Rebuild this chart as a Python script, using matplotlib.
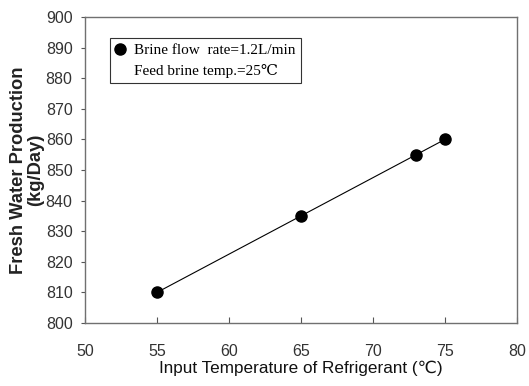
import matplotlib.pyplot as plt
from matplotlib.lines import Line2D

# data
temp = [55, 65, 73, 75]
water = [810, 835, 855, 860]
xticks = [50, 55, 60, 65, 70, 75, 80]
yticks = [800, 810, 820, 830, 840, 850, 860, 870, 880, 890, 900]
legend_labels = ["Brine flow  rate=1.2L/min", "Feed brine temp.=25\u2103"]

fig = plt.figure(figsize=(5.29, 3.86), dpi=100)
ax = fig.add_axes([0.1607, 0.1632, 0.8166, 0.7928])

ax.plot(temp, water, color="black", lw=0.8, marker="o", ms=8,
        markerfacecolor="black", markeredgecolor="black")

ax.set_xlim(50, 80)
ax.set_ylim(800, 900)
ax.set_xticks(xticks)
ax.set_yticks(yticks)

for s in ax.spines.values():
    s.set_color("#707070")
    s.set_linewidth(1.0)

ax.tick_params(axis="x", direction="in", length=4, color="#555555", pad=15,
               labelsize=11.5, labelcolor="#333333")
ax.tick_params(axis="y", direction="out", length=3, color="#555555", pad=6,
               labelsize=11.5, labelcolor="#333333")
for lab in ax.get_xticklabels() + ax.get_yticklabels():
    lab.set_family("Liberation Sans")

ax.set_xlabel("Input Temperature of Refrigerant (\u2103)", fontsize=12.3,
              family=["Liberation Sans", "DejaVu Sans"], labelpad=1, color="#111111")
ax.set_ylabel("Fresh Water Production\n(kg/Day)", fontsize=13.2, fontweight="bold",
              family="Liberation Sans", labelpad=1, color="#222222", linespacing=1.05)

handles = [Line2D([], [], color="black", marker="o", ls="none", ms=8),
           Line2D([], [], color="none", marker="none", ls="none")]
leg = ax.legend(handles, legend_labels, loc="upper left",
                bbox_to_anchor=(0.058, 0.931), borderaxespad=0,
                frameon=True, fancybox=False, handlelength=0.6,
                handletextpad=0.6, borderpad=0.35, labelspacing=0.45,
                prop={"family": ["Liberation Serif", "DejaVu Serif"], "size": 11})
leg.get_frame().set_edgecolor("black")
leg.get_frame().set_linewidth(0.8)

fig.savefig("out.png", dpi=100)
